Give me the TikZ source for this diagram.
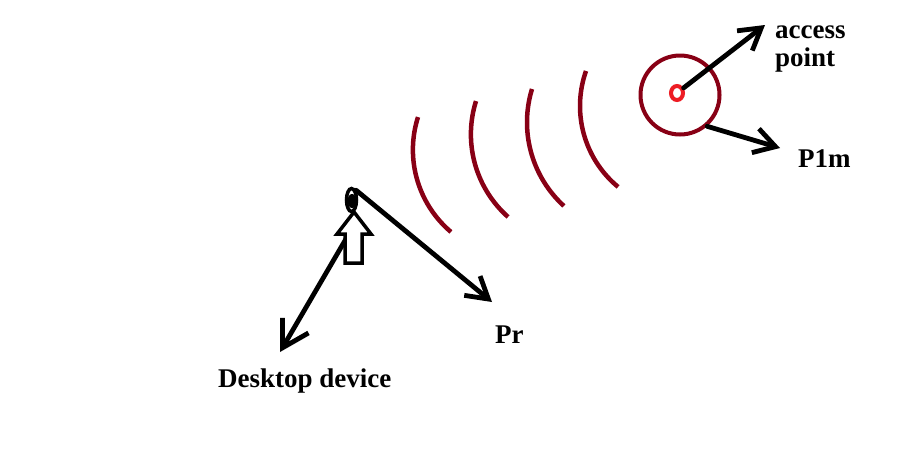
\documentclass[tikz,border=0pt]{standalone}
\usepackage{fontspec}
\setmainfont{Liberation Serif}
\usetikzlibrary{arrows.meta,shapes.geometric}
\definecolor{wave}{HTML}{880015}
\definecolor{apred}{HTML}{ED1C24}
\begin{document}
\begin{tikzpicture}[x=1pt,y=-1pt,
  lbl/.style={anchor=base west,inner sep=0pt,font=\fontsize{27}{30}\selectfont\bfseries},
  arr/.style={line width=4.8pt,line cap=round,line join=round,-{Straight Barb[length=21pt,width=25pt]}},
  bigarr/.style={line width=4.8pt,line cap=round,line join=round,-{Straight Barb[length=26pt,width=30pt]}},
  wavearc/.style={line width=4.5pt,draw=wave},
  outline/.style={line width=3.5pt,draw=black}]
\useasboundingbox[fill=white] (0,0) rectangle (912,448);

% radio waves
\draw[wavearc] plot[domain=130.3:197.7,samples=50,smooth] ({520.6+107.7*cos(\x)},{149.8+107.7*sin(\x)});
\draw[wavearc] plot[domain=131.6:197.5,samples=50,smooth] ({581.4+110.5*cos(\x)},{134.3+110.5*sin(\x)});
\draw[wavearc] plot[domain=132.4:197.1,samples=50,smooth] ({640.3+113.3*cos(\x)},{122.3+113.3*sin(\x)});
\draw[wavearc] plot[domain=129.6:199.5,samples=50,smooth] ({685.0+105.0*cos(\x)},{106.0+105.0*sin(\x)});

% access point
\node[circle,draw=wave,line width=4pt,minimum size=79pt,inner sep=0pt] (ap) at (680,95) {};
\node[ellipse,draw=apred,line width=4pt,minimum width=12pt,minimum height=14pt,inner sep=0pt] (apc) at (677,93) {};

\coordinate (tipA) at (765,25);
\coordinate (tipP) at (780,148);
\draw[arr] (apc) -- (tipA);
\draw[arr] (ap.-49) -- (tipP);

\node[lbl] (lacc) at (775,38) {access};
\node[lbl] (lpt) at (775,66) {point};
\node[lbl] (lp1m) at (798,167) {P1m};

% desktop device
\coordinate (devfoot) at (350,232);
\coordinate (tipD) at (280,352);
\coordinate (tipR) at (492,302);
\draw[bigarr] (devfoot) -- (tipD);

\draw[outline,fill=white,line join=miter] (354,212) -- (371,234) -- (362,234) -- (362,263) -- (345,263) -- (345,234) -- (337,234) -- cycle;

\node[ellipse,draw=black,line width=3.5pt,minimum width=10pt,minimum height=23pt,inner sep=0pt] (dev) at (351.5,200) {};
\fill[black] (352,201) ellipse [x radius=4.5pt,y radius=7pt];

\draw[arr] (dev.65) -- (tipR);

\node[lbl] (lpr) at (495,343) {Pr};
\node[lbl] (ldev) at (218,387) {Desktop device};
\end{tikzpicture}
\end{document}
